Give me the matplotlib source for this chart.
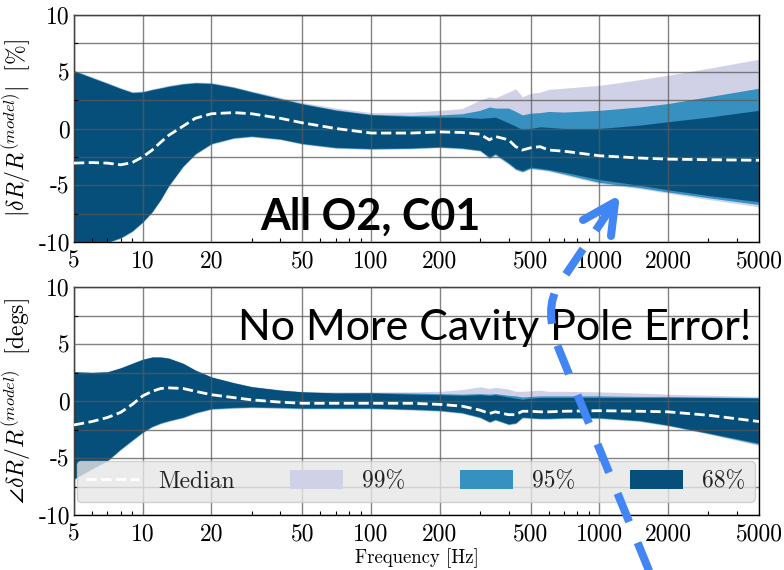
import numpy as np
import matplotlib
matplotlib.use('agg')
import matplotlib.pyplot as plt
import matplotlib.transforms as mtransforms
from matplotlib.path import Path
from matplotlib.patches import PathPatch
from matplotlib.lines import Line2D
from matplotlib.ticker import FixedLocator, LogLocator, NullFormatter

plt.rcParams['font.family'] = 'cmr10'
plt.rcParams['mathtext.fontset'] = 'cm'
plt.rcParams['axes.unicode_minus'] = False
plt.rcParams['axes.formatter.use_mathtext'] = True

# frequency grid [Hz]
freq = [5, 6, 7, 8, 9, 10, 11, 12, 13, 15, 17, 20, 25, 30, 40, 50, 70, 100, 150, 200,
        250, 300, 330, 350, 400, 430, 460, 500, 550, 600, 700, 1000, 1500, 2000, 3000, 5000]

# magnitude residual [%]
mag_med = [-3.05, -3.0, -3.05, -3.2, -3.0, -2.5, -1.9, -1.2, -0.6, 0.2, 0.9, 1.3, 1.4, 1.3, 0.9, 0.5, 0.0, -0.4,
           -0.4, -0.3, -0.35, -0.5, -1.0, -0.7, -1.0, -1.6, -1.9, -1.7, -1.6, -1.9, -2.0, -2.4, -2.6, -2.7, -2.75, -2.8]
mag_68_hi = [5.05, 4.45, 3.95, 3.5, 3.15, 3.2, 3.4, 3.55, 3.7, 3.9, 4.0, 3.95, 3.6, 3.2, 2.6, 2.15, 1.6, 1.2,
             1.05, 1.0, 1.0, 0.9, 0.95, 1.0, 0.5, 0.2, -0.1, 0.0, 0.15, 0.1, 0.0, 0.0, 0.3, 0.6, 1.0, 1.6]
mag_68_lo = [-10.3, -10.2, -10.0, -9.6, -9.0, -8.2, -7.3, -6.2, -5.0, -3.3, -2.2, -1.3, -0.8, -0.65, -0.9, -1.3, -1.65, -1.75,
             -1.7, -1.6, -1.7, -1.9, -2.5, -2.2, -3.0, -3.5, -3.7, -3.4, -3.5, -3.6, -3.85, -4.5, -5.0, -5.4, -5.9, -6.45]
mag_95_hi = [5.1, 4.5, 4.0, 3.55, 3.2, 3.25, 3.45, 3.6, 3.75, 3.95, 4.05, 4.0, 3.65, 3.25, 2.65, 2.2, 1.65, 1.25,
             1.15, 1.2, 1.3, 1.6, 1.9, 1.8, 1.8, 1.5, 1.2, 1.35, 1.4, 1.5, 1.45, 1.6, 1.9, 2.2, 2.8, 3.55]
mag_95_lo = [-10.35, -10.25, -10.05, -9.65, -9.05, -8.25, -7.35, -6.25, -5.05, -3.35, -2.25, -1.35, -0.85, -0.7, -0.95, -1.35, -1.7, -1.8,
             -1.75, -1.65, -1.75, -1.95, -2.6, -2.3, -3.1, -3.6, -3.8, -3.5, -3.6, -3.7, -4.0, -4.75, -5.2, -5.6, -6.1, -6.7]
mag_99_hi = [5.15, 4.55, 4.05, 3.6, 3.25, 3.3, 3.5, 3.65, 3.8, 4.0, 4.1, 4.05, 3.7, 3.3, 2.75, 2.3, 1.8, 1.4,
             1.45, 1.6, 1.75, 2.5, 2.8, 2.7, 3.2, 3.5, 2.8, 3.1, 3.2, 3.45, 3.55, 3.8, 4.3, 4.7, 5.3, 6.1]
mag_99_lo = [-10.4, -10.3, -10.1, -9.7, -9.1, -8.3, -7.4, -6.3, -5.1, -3.4, -2.3, -1.4, -0.9, -0.75, -1.0, -1.4, -1.75, -1.85,
             -1.8, -1.7, -1.8, -2.0, -2.65, -2.35, -3.15, -3.65, -3.85, -3.55, -3.65, -3.75, -4.1, -4.85, -5.3, -5.7, -6.25, -6.9]

# phase residual [degs]
ph_med = [-2.1, -1.8, -1.45, -1.0, -0.3, 0.45, 0.85, 1.1, 1.15, 1.1, 0.85, 0.55, 0.3, 0.1, -0.1, -0.2, -0.2, -0.2,
          -0.2, -0.3, -0.45, -0.8, -1.1, -0.95, -1.2, -1.2, -0.9, -0.9, -0.95, -0.95, -0.9, -0.85, -0.9, -0.95, -1.25, -1.8]
ph_68_hi = [2.55, 2.5, 2.55, 2.9, 3.3, 3.65, 3.85, 3.85, 3.75, 3.3, 2.7, 2.1, 1.6, 1.25, 0.95, 0.8, 0.7, 0.7,
            0.6, 0.55, 0.5, 0.55, 0.5, 0.55, 0.35, 0.25, 0.15, 0.25, 0.3, 0.3, 0.3, 0.3, 0.3, 0.3, 0.3, 0.25]
ph_68_lo = [-6.8, -5.9, -5.2, -4.2, -3.4, -2.7, -2.2, -1.9, -1.7, -1.4, -1.0, -0.65, -0.55, -0.5, -0.55, -0.6, -0.6, -0.6,
            -0.7, -0.8, -1.0, -1.4, -1.8, -1.6, -2.0, -1.9, -1.4, -1.45, -1.5, -1.5, -1.45, -1.45, -1.7, -2.1, -2.8, -3.7]
ph_95_hi = [2.55, 2.5, 2.55, 2.9, 3.3, 3.65, 3.85, 3.85, 3.75, 3.3, 2.7, 2.1, 1.6, 1.25, 0.95, 0.8, 0.72, 0.75,
            0.7, 0.65, 0.6, 0.65, 0.6, 0.65, 0.5, 0.45, 0.35, 0.4, 0.45, 0.45, 0.45, 0.45, 0.4, 0.4, 0.35, 0.3]
ph_95_lo = [-6.85, -5.95, -5.25, -4.25, -3.45, -2.75, -2.25, -1.95, -1.75, -1.45, -1.05, -0.7, -0.6, -0.55, -0.6, -0.65, -0.65, -0.65,
            -0.75, -0.85, -1.05, -1.45, -1.85, -1.65, -2.05, -1.95, -1.45, -1.5, -1.55, -1.55, -1.5, -1.5, -1.75, -2.15, -2.85, -3.8]
ph_99_hi = [2.6, 2.55, 2.6, 2.95, 3.35, 3.7, 3.9, 3.9, 3.8, 3.35, 2.75, 2.15, 1.65, 1.3, 1.0, 0.85, 0.8, 0.8,
            0.8, 0.85, 1.0, 1.25, 1.1, 1.2, 1.05, 0.85, 0.85, 0.9, 0.95, 0.85, 0.85, 0.8, 0.7, 0.6, 0.5, 0.4]
ph_99_lo = [-6.9, -6.0, -5.3, -4.3, -3.5, -2.8, -2.3, -2.0, -1.8, -1.5, -1.1, -0.75, -0.65, -0.6, -0.65, -0.7, -0.7, -0.7,
            -0.8, -0.9, -1.1, -1.5, -1.9, -1.7, -2.1, -2.0, -1.5, -1.55, -1.6, -1.6, -1.55, -1.55, -1.8, -2.2, -2.9, -3.9]

xticks = [5, 10, 20, 50, 100, 200, 500, 1000, 2000, 5000]
yticks = [-10, -5, 0, 5, 10]

c99, c95, c68 = '#d0d1e6', '#3690c0', '#074f7b'

fig = plt.figure(figsize=(7.84, 5.70), dpi=100)
ax1 = fig.add_axes([74/784, 1-242/570, 685/784, 227/570])
ax2 = fig.add_axes([74/784, 1-515/570, 685/784, 228/570])


def panel(ax, med, lo99, hi99, lo95, hi95, lo68, hi68):
    h99 = ax.fill_between(freq, lo99, hi99, color=c99, lw=0, zorder=1)
    h95 = ax.fill_between(freq, lo95, hi95, color=c95, lw=0, zorder=1.1)
    h68 = ax.fill_between(freq, lo68, hi68, color=c68, lw=0, zorder=1.2)
    hm, = ax.plot(freq, med, color='white', ls='--', lw=2, zorder=3)
    ax.set_xscale('log')
    ax.set_xlim(5, 5000)
    ax.set_ylim(-10, 10)
    ax.xaxis.set_major_locator(FixedLocator(xticks))
    ax.set_xticklabels([str(t) for t in xticks])
    ax.xaxis.set_minor_locator(LogLocator(base=10, subs=np.arange(2, 10) * 1.0, numticks=20))
    ax.xaxis.set_minor_formatter(NullFormatter())
    ax.set_yticks(yticks)
    ax.set_yticklabels([str(t) for t in yticks])
    ax.set_yticks([-7.5, -2.5, 2.5, 7.5], minor=True)
    ax.tick_params(which='both', direction='in', labelsize=17)
    ax.tick_params(axis='x', which='major', pad=6)
    ax.tick_params(axis='y', which='major', pad=3)
    ax.tick_params(which='major', length=0)
    ax.tick_params(which='minor', length=3, width=0.8)
    ax.grid(True, which='major', color='0.35', alpha=0.75, lw=1)
    ax.grid(True, which='minor', axis='y', color='0.35', alpha=0.75, lw=1)
    ax.set_axisbelow(False)
    for s in ax.spines.values():
        s.set_linewidth(1.0)
    return hm, h99, h95, h68


panel(ax1, mag_med, mag_99_lo, mag_99_hi, mag_95_lo, mag_95_hi, mag_68_lo, mag_68_hi)
hm, h99, h95, h68 = panel(ax2, ph_med, ph_99_lo, ph_99_hi, ph_95_lo, ph_95_hi, ph_68_lo, ph_68_hi)

ax1.set_ylabel(r'$|\delta R/R^{(model)}|\ \ [\%]$', fontsize=17)
ax1.yaxis.set_label_coords(-0.058, 0.5)
ax2.set_ylabel(r'$\angle\delta R/R^{(model)}\ \ [\mathrm{degs}]$', fontsize=17)
ax2.yaxis.set_label_coords(-0.058, 0.5)
ax2.set_xlabel('Frequency [Hz]', fontsize=13.5)
ax2.xaxis.set_label_coords(0.5, -0.145)

leg = ax2.legend([hm, h99, h95, h68], ['Median', '99%', '95%', '68%'], ncol=4,
                 loc='lower left', bbox_to_anchor=(0.004, 0.057, 0.99, 0.193), mode='expand',
                 fontsize=17, handlelength=2.25, handleheight=0.85, handletextpad=0.8,
                 borderaxespad=0, fancybox=True, framealpha=0.8, facecolor='#e6e6e6',
                 edgecolor='#c8c8c8')
for t in leg.get_texts():
    t.set_color('#222222')

fig.text(370/784, 1-230/570, 'All O2, C01', fontsize=31, fontweight='bold',
         family='Lato', ha='center', va='baseline')
fig.text(495/784, 1-340/570, 'No More Cavity Pole Error!', fontsize=31,
         family='Lato', ha='center', va='baseline')

# hand-drawn dashed arrow, in figure pixels
px = mtransforms.Affine2D().scale(1/784, -1/570).translate(0, 1) + fig.transFigure
arrow_path = Path([(652, 578), (560, 352), (542, 309), (560, 283), (615, 202)],
                  [Path.MOVETO, Path.LINETO, Path.CURVE3, Path.CURVE3, Path.LINETO])
fig.add_artist(PathPatch(arrow_path, transform=px, fill=False, edgecolor='#4285f4',
                         lw=5.8, ls=(0, (3.8, 2.8)), capstyle='butt', zorder=10))
fig.add_artist(Line2D([583, 615, 611], [220, 202, 236], transform=px, color='#4285f4',
                      lw=5.8, solid_capstyle='round', solid_joinstyle='round', zorder=10))

fig.savefig('out.png', dpi=100)
